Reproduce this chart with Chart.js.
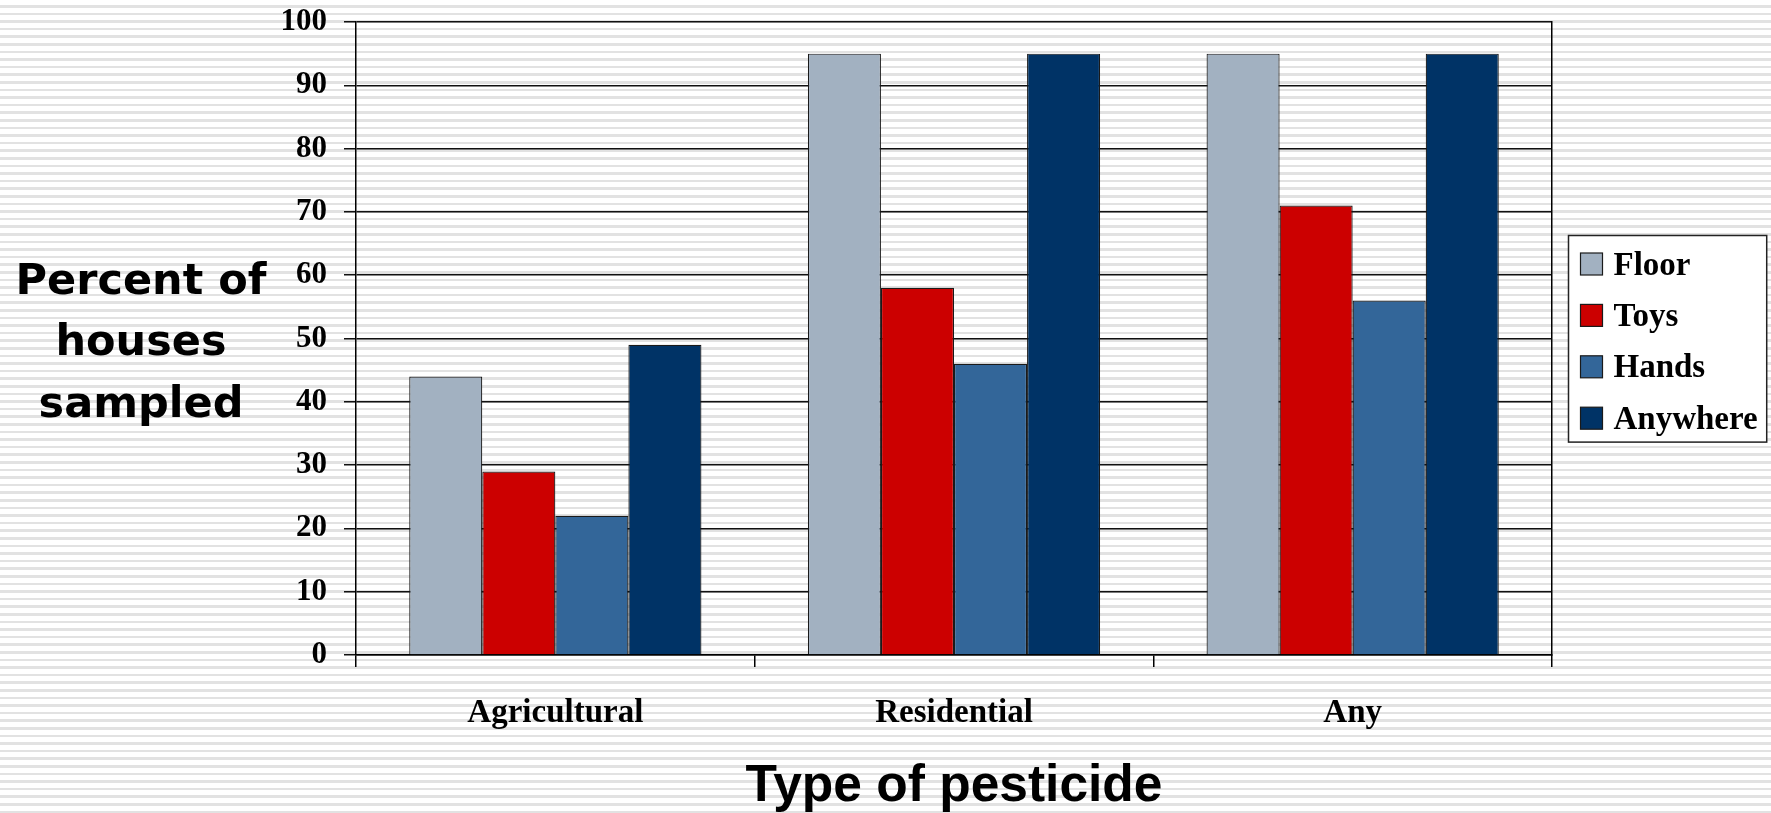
<!DOCTYPE html>
<html>
<head>
<meta charset="utf-8">
<script src="https://cdn.jsdelivr.net/npm/chart.js@4.4.1/dist/chart.umd.min.js"></script>
<style>
  html, body { margin: 0; padding: 0; }
  body {
    width: 1771px; height: 813px; overflow: hidden;
    background: repeating-linear-gradient(to bottom, #ffffff 0px, #ffffff 5px, #e2e2e2 5px, #e2e2e2 7.6px);
  }
  #wrap { position: relative; width: 1771px; height: 813px; }
</style>
</head>
<body>
<div id="wrap"><canvas id="c"></canvas></div>
<script>
// ---- data ----
const categories = ['Agricultural', 'Residential', 'Any'];
const seriesNames = ['Floor', 'Toys', 'Hands', 'Anywhere'];
const floorValues = [44, 95, 95];
const toysValues = [29, 58, 71];
const handsValues = [22, 46, 56];
const anywhereValues = [49, 95, 95];
const yTickValues = [0, 10, 20, 30, 40, 50, 60, 70, 80, 90, 100];
const yTitleLines = ['Percent of', 'houses', 'sampled'];
const xTitleText = 'Type of pesticide';

const seriesColors = ['#A2B1C1', '#CC0000', '#336699', '#003366'];
const seriesValues = [floorValues, toysValues, handsValues, anywhereValues];

const serif = '"Liberation Serif", "Times New Roman", serif';
const sans = '"Liberation Sans", Arial, sans-serif';
const wideSans = '"DejaVu Sans", Verdana, sans-serif';

const datasets = seriesNames.map((name, i) => ({
  label: name,
  data: seriesValues[i],
  backgroundColor: seriesColors[i],
  borderColor: '#1a1a1a',
  borderWidth: 1.2,
  categoryPercentage: 0.733,
  barPercentage: 1.0,
  yAxisID: 'y'
}));

// y-axis title (horizontal, multi-line) and framed legend
const decorPlugin = {
  id: 'decor',
  afterDraw(chart) {
    const ctx = chart.ctx;
    const area = chart.chartArea;
    const cy = (area.top + area.bottom) / 2;
    // y title
    ctx.save();
    ctx.fillStyle = '#000';
    ctx.font = 'bold 43px ' + wideSans;
    ctx.textAlign = 'center';
    ctx.textBaseline = 'middle';
    const lh = 61.5;
    const tx = area.left - 215;
    yTitleLines.forEach((t, i) => {
      ctx.fillText(t, tx, cy + (i - (yTitleLines.length - 1) / 2) * lh + 5.5);
    });
    ctx.restore();

    // legend
    ctx.save();
    ctx.font = 'bold 33px ' + serif;
    const itemH = 51.4;
    const sw = 22;
    const padL = 12, gap = 11, padR = 9;
    let maxW = 0;
    seriesNames.forEach(n => { maxW = Math.max(maxW, ctx.measureText(n).width); });
    const boxW = padL + sw + gap + maxW + padR;
    const boxH = itemH * seriesNames.length + 1;
    const bx = Math.round(area.right + 16) + 0.5;
    const by = Math.round(cy - boxH / 2) + 0.5;
    ctx.fillStyle = '#ffffff';
    ctx.fillRect(bx, by, boxW, boxH);
    ctx.strokeStyle = '#222';
    ctx.lineWidth = 1.5;
    ctx.strokeRect(bx, by, boxW, boxH);
    ctx.textAlign = 'left';
    ctx.textBaseline = 'middle';
    seriesNames.forEach((n, i) => {
      const iy = by + 28.5 + i * itemH;
      ctx.fillStyle = seriesColors[i];
      ctx.fillRect(bx + padL, iy - sw / 2, sw, sw);
      ctx.strokeStyle = '#1a1a1a';
      ctx.lineWidth = 1.2;
      ctx.strokeRect(bx + padL, iy - sw / 2, sw, sw);
      ctx.fillStyle = '#000';
      ctx.fillText(n, bx + padL + sw + gap, iy + 2);
    });
    ctx.restore();
  }
};

new Chart(document.getElementById('c'), {
  type: 'bar',
  data: { labels: categories, datasets },
  options: {
    responsive: true,
    maintainAspectRatio: false,
    animation: false,
    layout: { padding: { left: 0, top: 22, right: 219, bottom: 0 } },
    plugins: {
      legend: { display: false },
      tooltip: { enabled: false }
    },
    scales: {
      x: {
        offset: true,
        grid: {
          display: true,
          drawOnChartArea: false,
          drawTicks: true,
          tickLength: 12,
          color: '#000',
          lineWidth: 1.5
        },
        border: { display: true, color: '#000', width: 1.5 },
        ticks: {
          color: '#000',
          font: { family: serif, size: 33, weight: 'bold' },
          padding: 27,
          maxRotation: 0
        },
        title: {
          display: true,
          text: xTitleText,
          color: '#000',
          font: { family: sans, size: 51.5, weight: 'bold', lineHeight: 1.0 },
          padding: { top: 0, bottom: 0 }
        },
        afterFit(s) { s.height = 158; s.paddingLeft = 0; s.paddingRight = 0; }
      },
      y: {
        position: 'left',
        min: yTickValues[0],
        max: yTickValues[yTickValues.length - 1],
        afterBuildTicks(s) { s.ticks = yTickValues.map(v => ({ value: v })); },
        grid: {
          color: '#111',
          lineWidth: 1.5,
          drawTicks: true,
          tickLength: 12
        },
        border: { display: true, color: '#000', width: 1.5 },
        ticks: {
          color: '#000',
          font: { family: serif, size: 31, weight: 'bold' },
          padding: 17
        },
        afterFit(s) { s.width = 356; s.paddingTop = 0; s.paddingBottom = 0; }
      },
      yRight: {
        position: 'right',
        display: true,
        min: yTickValues[0],
        max: yTickValues[yTickValues.length - 1],
        grid: { display: false },
        ticks: { display: false },
        border: { display: true, color: '#000', width: 1.5 },
        afterFit(s) { s.width = 0; s.paddingTop = 0; s.paddingBottom = 0; }
      }
    }
  },
  plugins: [decorPlugin]
});
</script>
</body>
</html>
